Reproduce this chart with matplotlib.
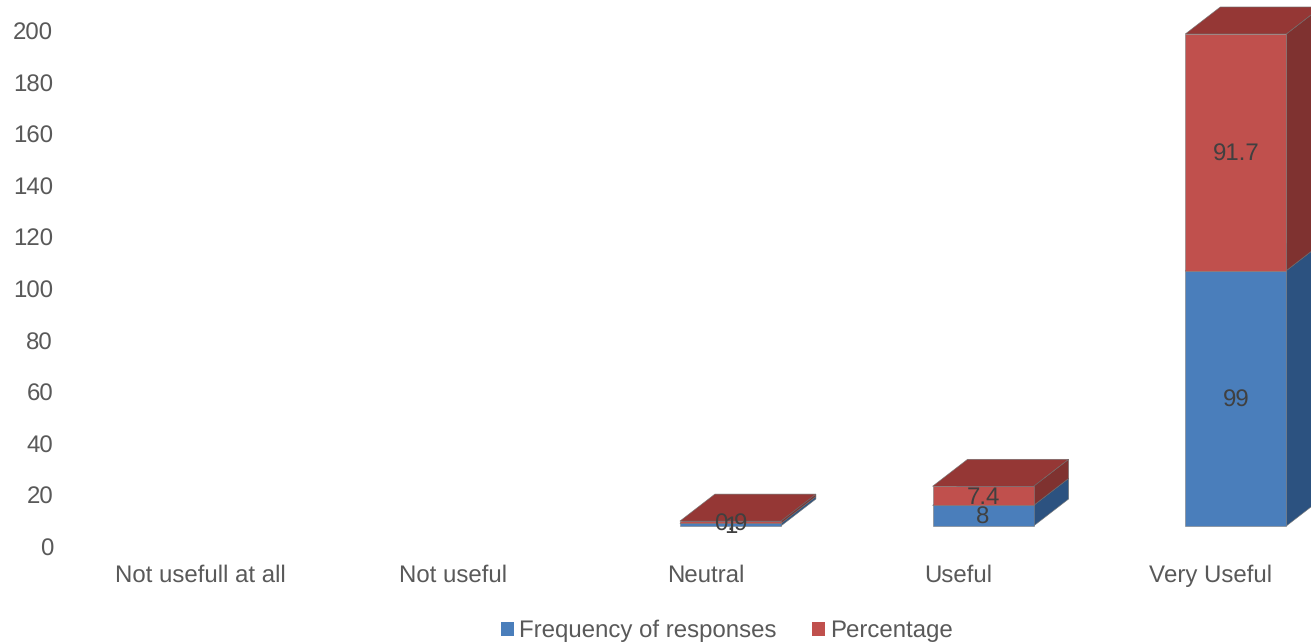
import matplotlib
matplotlib.use('Agg')
import matplotlib.pyplot as plt
from matplotlib.patches import Polygon, Patch
from matplotlib.transforms import ScaledTranslation

plt.rcParams['font.family'] = ['Liberation Sans', 'DejaVu Sans']
plt.rcParams['text.hinting'] = 'no_hinting'
plt.rcParams['text.hinting_factor'] = 1

categories = ['Not usefull at all', 'Not useful', 'Neutral', 'Useful', 'Very Useful']
frequency = [0, 0, 1, 8, 99]
percentage = [0, 0, 0.9, 7.4, 91.7]
y_ticks = [0, 20, 40, 60, 80, 100, 120, 140, 160, 180, 200]

W, H = 1311, 643
FS = 17
fig = plt.figure(figsize=(W / 100, H / 100), dpi=100)
ax = fig.add_axes([0, 0, 1, 1])

# pixel layout of the reference, turned into axis limits
cat_px = 252.7
unit_px = 2.58
ax.set_xlim((0 - 200) / cat_px, (W - 200) / cat_px)
ax.set_ylim((526 - H) / unit_px, 526 / unit_px)

bar_w = 101 / cat_px
bar_shift = 25 / cat_px
dx = 35 / cat_px
dy = 27 / unit_px


def draw_segment(x, bottom, value, front, side, top):
    if value == 0:
        return
    left = x + bar_shift - bar_w / 2
    right = left + bar_w
    upper = bottom + value
    ax.add_patch(Polygon([(right, bottom), (right + dx, bottom + dy), (right + dx, upper + dy), (right, upper)],
                         facecolor=side, edgecolor='#6d6d6d', linewidth=0.4, zorder=2))
    ax.add_patch(Polygon([(left, upper), (left + dx, upper + dy), (right + dx, upper + dy), (right, upper)],
                         facecolor=top, edgecolor='#6d6d6d', linewidth=0.4, zorder=2))
    ax.bar(x + bar_shift, value, bar_w, bottom=bottom, color=front, edgecolor='#7d7d7d', linewidth=0.4, zorder=3)


# value labels sit a little lower than the plain centre of the segment
label_trans = ax.transData + ScaledTranslation(0, -2 / 100, fig.dpi_scale_trans)
text_style = dict(ha='center', va='center', fontsize=FS, color='#404040', zorder=5, transform=label_trans)
for i in range(len(categories)):
    f = frequency[i]
    p = percentage[i]
    draw_segment(i, 0, f, '#4a7ebb', '#2c5280', '#35608f')
    draw_segment(i, f, p, '#c0504d', '#7f3230', '#953735')
    if f > 0:
        ax.text(i + bar_shift, f / 2, str(f), **text_style)
        ax.text(i + bar_shift, f + p / 2, str(p), **text_style)

ax.set_yticks(y_ticks)
ax.set_yticklabels([str(v) for v in y_ticks])
ax.set_xticks(range(len(categories)))
ax.set_xticklabels(categories)
ax.tick_params(length=0, labelsize=FS, labelcolor='#595959')
ax.tick_params(axis='y', direction='in', pad=0)
for s in ax.spines.values():
    s.set_visible(False)
ax.patch.set_visible(False)

# labels sit below the bar floor, as on the front wall of the 3D chart
y_off = ScaledTranslation(53 / 100, -21 / 100, fig.dpi_scale_trans)
for lab in ax.get_yticklabels():
    lab.set_transform(lab.get_transform() + y_off)
    lab.set_ha('right')
x_off = ScaledTranslation(0, 72 / 100, fig.dpi_scale_trans)
for lab in ax.get_xticklabels():
    lab.set_transform(lab.get_transform() + x_off)
    lab.set_va('center')

handles = [Patch(facecolor='#4a7ebb', label='Frequency of responses'),
           Patch(facecolor='#c0504d', label='Percentage')]
fig.legend(handles=handles, ncol=2, loc='center', bbox_to_anchor=(727 / W, 1 - 631 / H), frameon=False,
           fontsize=FS, labelcolor='#595959', handlelength=0.55, handleheight=0.55,
           handletextpad=0.21, columnspacing=1.52, borderpad=0, borderaxespad=0)

fig.savefig('out.png', dpi=100)
